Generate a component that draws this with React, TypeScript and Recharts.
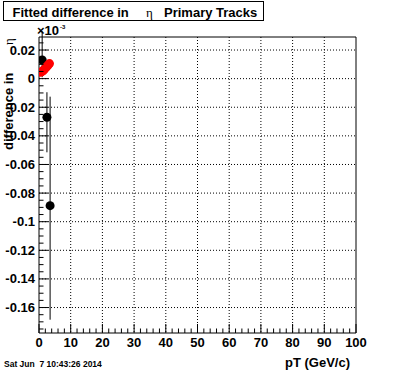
import React from "react";
import {
  ScatterChart,
  Scatter,
  XAxis,
  YAxis,
  CartesianGrid,
  ErrorBar,
  ReferenceArea,
} from "recharts";

// black points (with error bars)
const blackPt = [1.0, 2.5, 3.5];
const blackVal = [0.013, -0.027, -0.0888];
const blackErrLow = [0.012, 0.0245, 0.0797];
const blackErrHigh = [0.02, 0.0175, 0.0762];

// red points
const redPt = [0.5, 0.9, 1.3, 1.7, 2.1, 2.5, 2.9, 3.3];
const redVal = [0.0045, 0.005, 0.0055, 0.0065, 0.0075, 0.0085, 0.0095, 0.0105];

const xMajorTicks = [0, 10, 20, 30, 40, 50, 60, 70, 80, 90, 100];
const yMajorTicks = [0.02, 0, -0.02, -0.04, -0.06, -0.08, -0.1, -0.12, -0.14, -0.16];
const yTickLabels = ["0.02", "0", "-0.02", "-0.04", "-0.06", "-0.08", "-0.1", "-0.12", "-0.14", "-0.16"];

const X_MIN = 0;
const X_MAX = 100;
const Y_MIN = -0.1778;
const Y_MAX = 0.0291;

const W = 396;
const H = 372;
const PLOT_LEFT = 39;
const PLOT_TOP = 37;
const PLOT_RIGHT = 356;
const PLOT_BOTTOM = 333;

const FONT = "'Liberation Sans', Arial, Helvetica, sans-serif";

const blackData = blackPt.map((x, i) => ({
  x,
  y: blackVal[i],
  err: [blackErrLow[i], blackErrHigh[i]],
}));
const redData = redPt.map((x, i) => ({ x, y: redVal[i] }));

// minor ticks: every 2 on x, every 0.005 on y
const xAllTicks: number[] = [];
for (let v = 0; v <= 100; v += 2) xAllTicks.push(v);
const yAllTicks: number[] = [];
for (let i = -35; i <= 5; i++) yAllTicks.push(i * 0.005);

const XTick = (props: any) => {
  const { x, payload } = props;
  const v = payload.value;
  const major = v % 10 === 0;
  return (
    <g>
      <line x1={x} x2={x} y1={PLOT_BOTTOM} y2={PLOT_BOTTOM - (major ? 9 : 4.5)} stroke="#000" />
      {major && (
        <text x={x} y={347} textAnchor="middle" fontFamily={FONT} fontWeight="bold" fontSize={13} fill="#000">
          {v}
        </text>
      )}
    </g>
  );
};

const YTick = (props: any) => {
  const { y, payload } = props;
  const v = payload.value;
  const idx = yMajorTicks.findIndex((t) => Math.abs(t - v) < 1e-9);
  const major = idx >= 0;
  return (
    <g>
      <line x1={PLOT_LEFT} x2={PLOT_LEFT + (major ? 9 : 4.5)} y1={y} y2={y} stroke="#000" />
      {major && (
        <text x={35} y={y + 4.5} textAnchor="end" fontFamily={FONT} fontWeight="bold" fontSize={13} fill="#000">
          {yTickLabels[idx]}
        </text>
      )}
    </g>
  );
};

const Dot = (color: string) => (props: any) =>
  <circle cx={props.cx} cy={props.cy} r={4.5} fill={color} />;

export default function App() {
  return (
    <div style={{ position: "absolute", left: 0, top: 0, width: W, height: H, background: "#fff" }}>
      <ScatterChart
        width={W}
        height={H}
        margin={{ top: PLOT_TOP, right: W - PLOT_RIGHT, bottom: 0, left: 0 }}
        style={{ position: "absolute", left: 0, top: 0 }}
      >
        <CartesianGrid
          stroke="#000"
          strokeDasharray="1 2"
          horizontalValues={yMajorTicks.slice(0)}
          verticalValues={xMajorTicks.slice(1, -1)}
        />
        <XAxis
          type="number"
          dataKey="x"
          domain={[X_MIN, X_MAX]}
          ticks={xAllTicks}
          interval={0}
          height={H - PLOT_BOTTOM}
          axisLine={false}
          tickLine={false}
          tick={<XTick />}
          allowDataOverflow
        />
        <YAxis
          type="number"
          dataKey="y"
          domain={[Y_MIN, Y_MAX]}
          ticks={yAllTicks}
          interval={0}
          width={PLOT_LEFT}
          axisLine={false}
          tickLine={false}
          tick={<YTick />}
          allowDataOverflow
        />
        <Scatter data={blackData} shape={Dot("#000")} isAnimationActive={false}>
          <ErrorBar dataKey="err" direction="y" width={0} stroke="#000" strokeWidth={1} />
        </Scatter>
        <Scatter data={redData} shape={Dot("#ff0000")} isAnimationActive={false} />
        <ReferenceArea
          x1={X_MIN}
          x2={X_MAX}
          y1={Y_MIN}
          y2={Y_MAX}
          fill="none"
          stroke="#000"
          strokeWidth={1}
          ifOverflow="visible"
        />
      </ScatterChart>
      <svg
        width={W}
        height={H}
        style={{ position: "absolute", left: 0, top: 0, pointerEvents: "none" }}
      >
        <rect x={3.5} y={1.5} width={260} height={19} fill="#fff" stroke="#000" />
        <text x={12.5} y={16.5} fontFamily={FONT} fontWeight="bold" fontSize={13}>
          Fitted difference in
        </text>
        <text x={146} y={16.5} fontFamily="'Liberation Serif', 'DejaVu Serif', serif" fontSize={13}>
          η
        </text>
        <text x={164} y={16.5} fontFamily={FONT} fontWeight="bold" fontSize={13}>
          Primary Tracks
        </text>

        <text
          x={13}
          y={150}
          transform="rotate(-90 13 150)"
          fontFamily={FONT}
          fontWeight="bold"
          fontSize={13}
        >
          difference in
        </text>
        <text
          x={13}
          y={45}
          transform="rotate(-90 13 45)"
          fontFamily="'Liberation Serif', 'DejaVu Serif', serif"
          fontSize={13}
        >
          η
        </text>

        <text x={37} y={35} fontFamily={FONT} fontWeight="bold" fontSize={13}>
          ×10
        </text>
        <text x={60} y={29} fontFamily={FONT} fontWeight="bold" fontSize={6}>
          -3
        </text>

        <text x={350} y={367} textAnchor="end" fontFamily={FONT} fontWeight="bold" fontSize={13}>
          pT (GeV/c)
        </text>

        <text x={4} y={367} fontFamily={FONT} fontWeight="bold" fontSize={8.5} style={{ whiteSpace: "pre" }}>
          {"Sat Jun  7 10:43:26 2014"}
        </text>
      </svg>
    </div>
  );
}
